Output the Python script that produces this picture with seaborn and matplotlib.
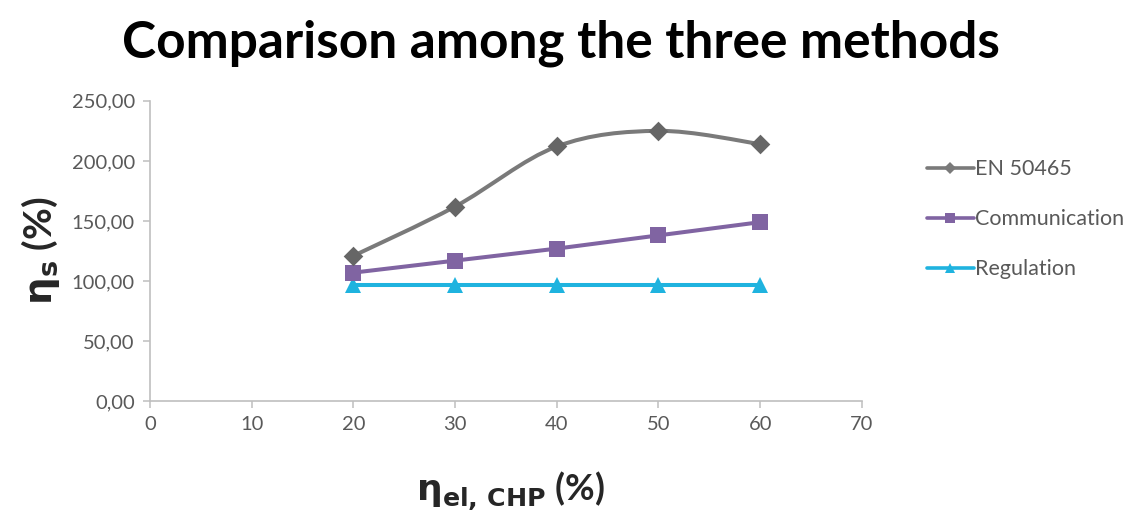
import matplotlib
matplotlib.use("Agg")
import matplotlib.pyplot as plt
import numpy as np
import pandas as pd
import seaborn as sns
from matplotlib.lines import Line2D
from matplotlib.patches import PathPatch
from matplotlib.path import Path
from matplotlib.ticker import FuncFormatter

# dados
eta_el = [20, 30, 40, 50, 60]
en50465 = [121, 162, 212, 225, 214]
communication = [107, 117, 127, 138, 149]
regulation = [97, 97, 97, 97, 97]

SERIES = ["EN 50465", "Communication", "Regulation"]
CORES = {"EN 50465": "#7a7a7a", "Communication": "#8064a2", "Regulation": "#1fb3df"}
MARCADORES = {"EN 50465": "D", "Communication": "s", "Regulation": "^"}
TAMANHOS = {"EN 50465": 10, "Communication": 12, "Regulation": 12}

sns.set_theme(style="white")
plt.rcParams["font.family"] = ["Lato", "DejaVu Sans"]


def curva_suave(xs, ys):
    """Caminho Bezier no estilo 'linha suavizada' do Excel."""
    pts = np.column_stack([xs, ys]).astype(float)
    n = len(pts)
    verts = [pts[0]]
    codes = [Path.MOVETO]
    for i in range(n - 1):
        p0 = pts[max(i - 1, 0)]
        p1 = pts[i]
        p2 = pts[i + 1]
        p3 = pts[min(i + 2, n - 1)]
        verts += [p1 + (p2 - p0) / 6, p2 - (p3 - p1) / 6, p2]
        codes += [Path.CURVE4] * 3
    return Path(verts, codes)


df = pd.DataFrame({
    "eta_el": eta_el * 3,
    "valor": en50465 + communication + regulation,
    "metodo": [s for s in SERIES for _ in eta_el],
})

fig = plt.figure(figsize=(11.37, 5.17), dpi=100)
ax = fig.add_axes([0.132, 0.224, 0.626, 0.581])

# linha suavizada da EN 50465
ax.add_patch(PathPatch(curva_suave(eta_el, en50465), facecolor="none",
                       edgecolor=CORES["EN 50465"], lw=2.9, zorder=2))

for nome in ["Regulation", "Communication"]:
    sub = df[df["metodo"] == nome]
    sns.lineplot(data=sub, x="eta_el", y="valor", ax=ax, color=CORES[nome],
                 lw=2.9, marker=MARCADORES[nome], markersize=TAMANHOS[nome],
                 markeredgewidth=0, legend=False, zorder=3)

sub = df[df["metodo"] == "EN 50465"]
sns.scatterplot(data=sub, x="eta_el", y="valor", ax=ax, color="#666666",
                marker="D", s=TAMANHOS["EN 50465"] ** 2, linewidth=0,
                legend=False, zorder=4)

ax.set_xlim(0, 70)
ax.set_ylim(0, 250)
ax.set_xticks(range(0, 71, 10))
ax.set_yticks(range(0, 251, 50))
ax.yaxis.set_major_formatter(FuncFormatter(lambda v, _: f"{v:.2f}".replace(".", ",")))
ax.set_xlabel("")
ax.set_ylabel("")
for lado in ["top", "right"]:
    ax.spines[lado].set_visible(False)
for lado in ["left", "bottom"]:
    ax.spines[lado].set_color("#bfbfbf")
    ax.spines[lado].set_linewidth(1.2)
ax.tick_params(axis="both", which="major", direction="out", length=5,
               width=1.1, color="#bfbfbf", labelsize=14.5, labelcolor="#595959",
               left=True, bottom=True, pad=6)

fig.text(0.493, 0.917, "Comparison among the three methods", ha="center",
         va="center", fontsize=37, fontweight="bold", color="black")
fig.text(0.036, 0.515, r"$\mathbf{\eta_s}$ (%)", ha="center", va="center",
         rotation=90, fontsize=28, fontweight="bold")
fig.text(0.449, 0.05, r"$\mathbf{\eta_{el,\,CHP}}$ (%)", ha="center",
         va="center", fontsize=26, fontweight="bold")

handles = [Line2D([], [], color=CORES[s], lw=2.6, marker=MARCADORES[s],
                  markersize=TAMANHOS[s] * 0.6, markeredgewidth=0)
           for s in SERIES]
leg = fig.legend(handles, SERIES, loc="center left", bbox_to_anchor=(0.798, 0.576),
                 frameon=False, fontsize=15.5, handlelength=2.2,
                 handletextpad=0.05, labelspacing=1.4)
for t in leg.get_texts():
    t.set_color("#595959")

fig.savefig("out.png", dpi=100)
plt.close(fig)
